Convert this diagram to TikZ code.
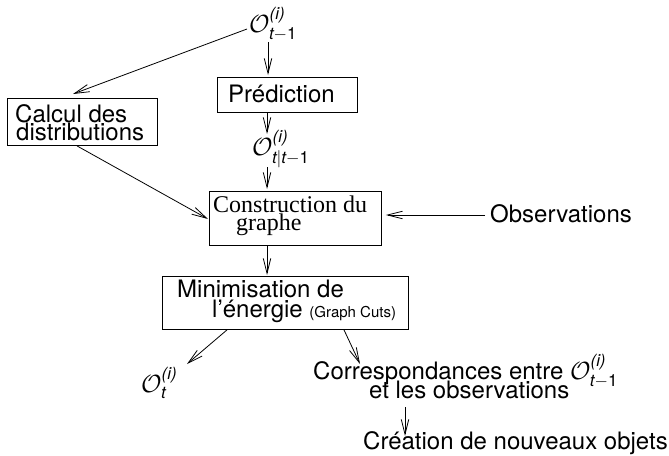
\documentclass[tikz,border=0pt]{standalone}
\usepackage{amsmath}
\usepackage{fontspec}
\setmainfont{TeX Gyre Heros}
\newfontfamily\timesfont{Liberation Serif}
\usetikzlibrary{arrows.meta}
\newcommand{\si}[1]{\text{\itshape #1}}
\newcommand{\su}[1]{\text{#1}}
\begin{document}
\begin{tikzpicture}[x=1pt,y=-1pt,
  box/.style={draw, line width=0.9pt, anchor=north west, inner sep=0pt},
  txt/.style={anchor=base west, inner sep=0pt, font=\fontsize{24}{18}\selectfont},
  arr/.style={-{Straight Barb[length=15pt,width=7.5pt]}, line width=0.8pt}]
\useasboundingbox (0,0) rectangle (669,455);

% boxes
\node[box, minimum width=150pt, minimum height=47pt] (calc) at (7,98) {};
\node[box, minimum width=140pt, minimum height=35pt] (pred) at (217,77) {};
\node[box, minimum width=172pt, minimum height=54pt] (cons) at (209,191) {};
\node[box, minimum width=246pt, minimum height=53pt] (mini) at (162,276) {};

% texts
\node[txt] (calct1) at (15,122) {Calcul des};
\node[txt] (calct2) at (16,140) {distributions};
\node[txt] (predt) at (228,102) {Prédiction};
\node[txt, font=\fontsize{24}{18}\timesfont] (const1) at (213,212) {Construction du};
\node[txt, font=\fontsize{24}{18}\timesfont] (const2) at (236,230) {graphe};
\node[txt] (minit1) at (177,297) {Minimisation de};
\node[txt] (minit2) at (212,317) {l’énergie {\fontsize{15}{15}\selectfont (Graph Cuts)}};
\node[txt] (obs) at (490,222) {Observations};
\node[txt] (otm) at (249,32) {$\mathcal{O}^{\si{(i)}}_{\si{t}-\su{1}}$};
\node[txt] (ott) at (252,155) {$\mathcal{O}^{\si{(i)}}_{\si{t}|\si{t}-\su{1}}$};
\node[txt] (ot) at (141,392) {$\mathcal{O}^{\si{(i)}}_{\si{t}}$};
\node[txt] (corr1) at (313,379) {Correspondances entre $\mathcal{O}^{\si{(i)}}_{\si{t}-\su{1}}$};
\node[txt] (corr2) at (369,398) {et les observations};
\node[txt] (crea) at (363,449) {Création de nouveaux objets};

% connectors
\draw[arr] ([shift={(19pt,-10pt)}]otm.base west) -- ([shift={(51pt,2pt)}]pred.north west);
\draw[arr] ([shift={(-2pt,3pt)}]otm.base west) -- ([shift={(66pt,4pt)}]calc.north west);
\draw[arr] ([xshift=50pt]pred.south west) -- ([shift={(15pt,21pt)}]ott.base west);
\draw[arr] ([shift={(15pt,-12pt)}]ott.base west) -- ([shift={(58pt,2pt)}]cons.north west);
\draw[arr] ([xshift=70pt]calc.south west) -- ([shift={(-1pt,-28pt)}]cons.north west);
\draw[arr] ([shift={(-5pt,7pt)}]obs.base west) -- ([shift={(4pt,-24pt)}]cons.north east);
\draw[arr] ([xshift=58pt]cons.south west) -- ([shift={(105pt,1pt)}]mini.north west);
\draw[arr] ([xshift=65pt]mini.south west) -- ([shift={(46pt,28pt)}]ot.base west);
\draw[arr] ([xshift=182pt]mini.south west) -- ([shift={(47pt,15pt)}]corr1.base west);
\draw[arr] ([shift={(36pt,-9pt)}]corr2.base west) -- ([shift={(42pt,13pt)}]crea.base west);
\end{tikzpicture}
\end{document}
